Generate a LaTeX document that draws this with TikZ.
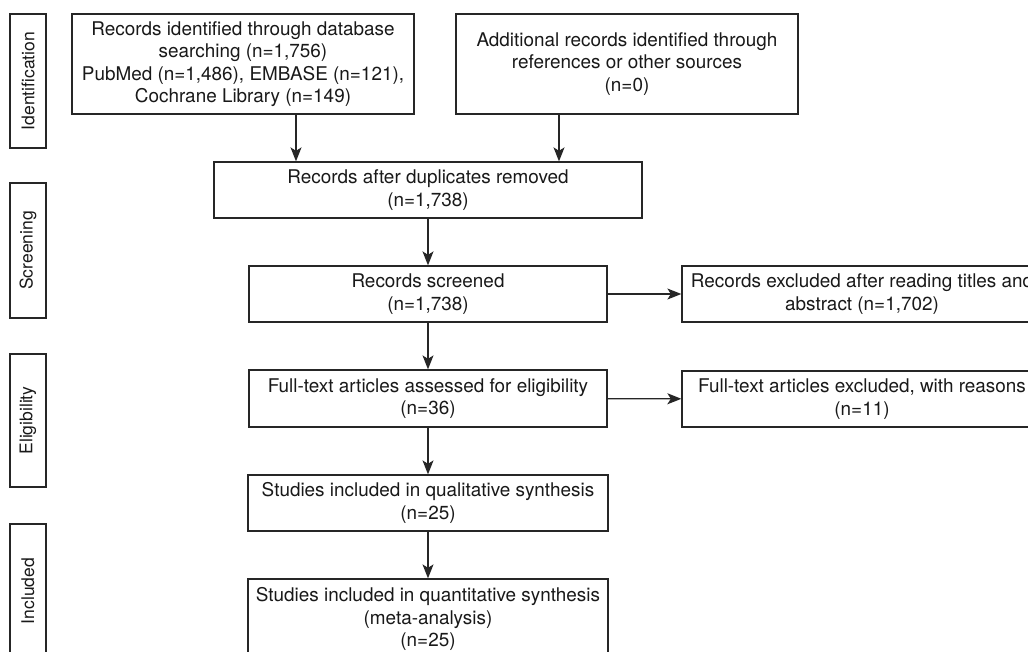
\documentclass[tikz,border=0pt]{standalone}
\usepackage{fontspec}
\setmainfont{TeX Gyre Heros}
\usetikzlibrary{arrows.meta}

\begin{document}
\begin{tikzpicture}[x=1pt, y=-1pt,
        box/.style={draw=black!85, line width=1.3pt, align=center, inner sep=0pt, text=black!90, font=\fontsize{18.9}{22.5}\selectfont},
        stage/.style={draw=black!85, line width=1.3pt, rotate=90, minimum height=36pt, inner sep=0pt, text=black!90, font=\fontsize{17.5}{20}\selectfont},
        arr/.style={draw=black!85, line width=1.3pt, -{Stealth[length=14pt, width=11pt, inset=3.5pt]}}]
        \useasboundingbox (0, 0) rectangle (1028, 651);
        \fill[white] (0, 0) rectangle (1028, 651);
        \clip (0, 0) rectangle (1028, 651);
        % stages on the left
        \node[stage, minimum width=134pt] (stId) at (28, 81) {Identification};
        \node[stage, minimum width=135pt] (stScr) at (28, 250.5) {Screening};
        \node[stage, minimum width=133pt] (stElig) at (28, 420.5) {Eligibility};
        \node[stage, minimum width=134pt] (stIncl) at (28, 591) {Included};
        % flow boxes
        \node[box, minimum width=342pt, minimum height=100pt] (dbase) at (243, 64) {Records identified through database\\searching (n=1,756)\\PubMed (n=1,486), EMBASE (n=121),\\Cochrane Library (n=149)};
        \node[box, minimum width=342pt, minimum height=100pt] (other) at (627, 64) {Additional records identified through\\references or other sources\\(n=0)};
        \node[box, minimum width=428pt, minimum height=56pt] (dupl) at (428, 190) {Records after duplicates removed\\(n=1,738)};
        \node[box, minimum width=358pt, minimum height=56pt] (screen) at (428, 294) {Records screened\\(n=1,738)};
        \node[box, minimum width=360pt, minimum height=56pt] (excl) at (862, 294) {Records excluded after reading titles and\\abstract (n=1,702)};
        \node[box, minimum width=358pt, minimum height=57pt] (full) at (428, 398.5) {Full-text articles assessed for eligibility\\(n=36)};
        \node[box, minimum width=360pt, minimum height=56pt] (ftexcl) at (862, 399) {Full-text articles excluded, with reasons\\(n=11)};
        \node[box, minimum width=360pt, minimum height=56pt] (qual) at (428, 503) {Studies included in qualitative synthesis\\(n=25)};
        \node[box, minimum width=360pt, minimum height=80pt] (quant) at (428, 619) {Studies included in quantitative synthesis\\(meta-analysis)\\(n=25)};
        % arrows
        \draw[arr] ([xshift=53pt]dbase.south) -- ([xshift=53pt]dbase.south |- dupl.north);
        \draw[arr] ([xshift=-68pt]other.south) -- ([xshift=-68pt]other.south |- dupl.north);
        \draw[arr] (dupl) -- (screen);
        \draw[arr] (screen) -- (excl);
        \draw[arr] (screen) -- (full);
        \draw[arr] (full) -- (ftexcl);
        \draw[arr] (full) -- (qual);
        \draw[arr] (qual) -- (quant);
    \end{tikzpicture}
\end{document}
